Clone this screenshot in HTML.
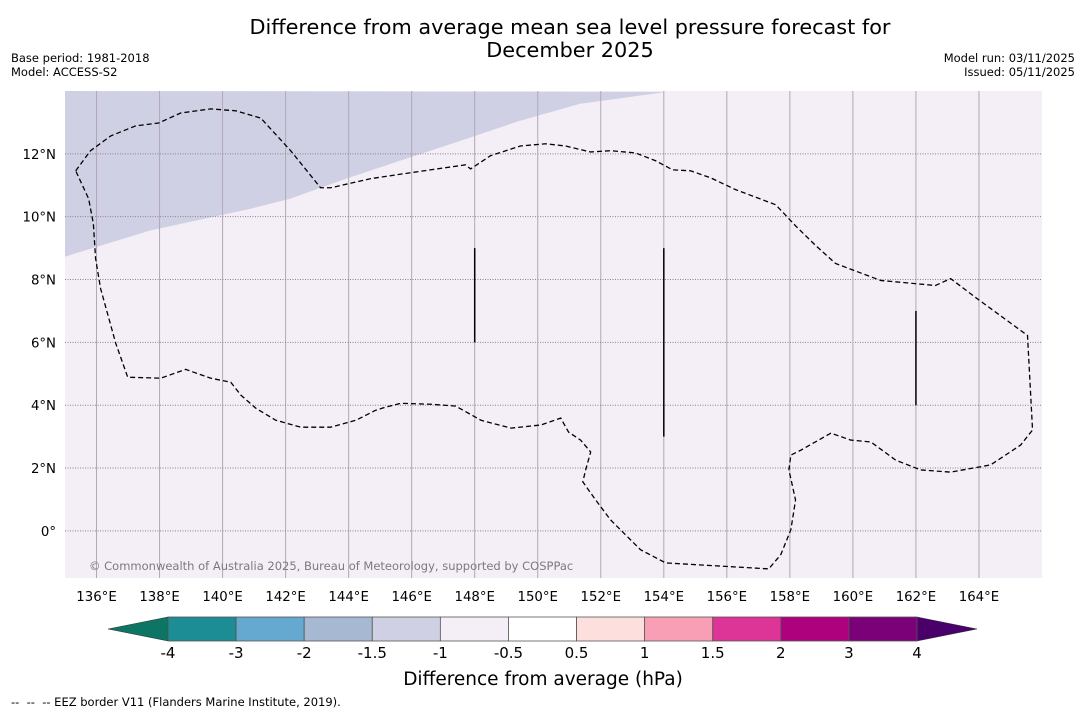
<!DOCTYPE html>
<html><head><meta charset="utf-8"><style>
body{margin:0;background:#fff;font-family:"Liberation Sans","DejaVu Sans",sans-serif}
svg{display:block}
</style></head><body>
<svg id="c" width="1085" height="713" font-family="DejaVu Sans, Liberation Sans, sans-serif">
<text x="570" y="34" text-anchor="middle" font-size="20.8">Difference from average mean sea level pressure forecast for</text>
<text x="570" y="57" text-anchor="middle" font-size="20.8">December 2025</text>
<text x="11" y="62" font-size="11.5">Base period: 1981-2018</text>
<text x="11" y="76" font-size="11.5">Model: ACCESS-S2</text>
<text x="1075" y="62" font-size="11.5" text-anchor="end">Model run: 03/11/2025</text>
<text x="1075" y="76" font-size="11.5" text-anchor="end">Issued: 05/11/2025</text>
<g id="map"></g>
<g id="cb"></g>
<text x="543" y="685" text-anchor="middle" font-size="18.5">Difference from average (hPa)</text>
<text x="11" y="706" font-size="11.5">-- &#160;-- &#160;-- EEZ border V11 (Flanders Marine Institute, 2019).</text>
</svg>
<script>
const lonTicks=[136,138,140,142,144,146,148,150,152,154,156,158,160,162,164];
const latTicks=[0,2,4,6,8,10,12];
const cbBounds=[-4,-3,-2,-1.5,-1,-0.5,0.5,1,1.5,2,3,4];
const cbLabels=["-4","-3","-2","-1.5","-1","-0.5","0.5","1","1.5","2","3","4"];
const cbColors=["#1c8d94","#66a9d0","#a7b8d3","#d0d0e4","#f4eef6","#ffffff","#fde0dd","#f99fb5","#dd3497","#ae017e","#7a0177"];
// EEZ outline lon/lat
const eezLon=[135.34,135.81,136.45,137.24,137.97,138.67,139.62,140.42,141.21,142.16,143.11,143.43,144.70,145.97,147.71,147.87,148.50,149.45,150.25,150.88,151.67,152.31,153.10,153.74,154.28,154.85,155.48,156.28,157.55,158.18,158.82,159.45,160.88,162.62,163.10,163.89,165.54,165.70,165.32,164.37,163.10,162.15,161.36,160.57,159.93,159.30,158.35,158.03,157.97,158.18,158.03,157.71,157.33,154.06,153.26,152.31,151.84,151.43,151.52,151.68,151.36,150.98,150.73,150.10,149.15,148.20,147.40,146.61,145.66,145.18,144.86,144.23,143.43,142.48,141.69,141.06,140.58,140.26,139.62,138.83,138.04,136.99,136.61,136.13,135.97,135.90,135.75,135.34];
const eezLat=[11.46,12.10,12.57,12.89,12.98,13.30,13.43,13.37,13.14,12.10,10.92,10.92,11.21,11.40,11.65,11.52,11.94,12.25,12.32,12.25,12.06,12.10,12.03,11.78,11.49,11.46,11.24,10.86,10.38,9.71,9.08,8.51,7.97,7.81,8.03,7.43,6.22,3.21,2.73,2.10,1.87,1.94,2.25,2.83,2.89,3.11,2.57,2.41,1.94,0.98,0.03,-0.76,-1.21,-1.02,-0.60,0.35,0.98,1.56,1.94,2.51,2.89,3.14,3.59,3.37,3.27,3.52,3.97,4.03,4.06,3.94,3.84,3.52,3.30,3.30,3.52,3.90,4.32,4.73,4.86,5.14,4.86,4.89,5.97,7.71,8.67,9.78,10.57,11.46];
// shaded (-1.5..-1) region boundary lon/lat
const shadeLon=[135.0,137.70,140.87,142.14,143.72,145.63,147.53,149.43,151.33,154.06];
const shadeLat=[8.73,9.56,10.25,10.57,11.14,11.78,12.41,13.05,13.59,13.97];
const segLon=[148,154,162], segLat0=[6,3,4], segLat1=[9,9,7];
const L=65,R=1042,T=91,B=578, lon0=135,lon1=166, lat0=-1.5,lat1=14;
const X=v=>L+(v-lon0)/(lon1-lon0)*(R-L);
const Y=v=>B-(v-lat0)/(lat1-lat0)*(B-T);
const NS="http://www.w3.org/2000/svg";
function mk(p,t,a){const e=document.createElementNS(NS,t);for(const k in a)e.setAttribute(k,a[k]);p.appendChild(e);return e;}
const m=document.getElementById('map');
let r=mk(m,'rect',{x:L,y:T,width:R-L,height:B-T,fill:'#f4eef6'});


let sp='M'+X(lon0)+','+Y(lat1)+' '+shadeLon.map((v,i)=>'L'+X(v)+','+Y(shadeLat[i])).join(' ')+' Z';
let sh=mk(m,'path',{d:sp,fill:'#d0d0e4'});


lonTicks.forEach(v=>{
 let g=mk(m,'line',{x1:X(v),x2:X(v),y1:T,y2:B,stroke:'#b0a8b8','stroke-width':1});
 
 
 let t=mk(m,'text',{x:X(v),y:B+23,'text-anchor':'middle','font-size':13.3});t.textContent=v+'°E';
 
 
});
latTicks.forEach(v=>{
 let g=mk(m,'line',{x1:L,x2:R,y1:Y(v),y2:Y(v),stroke:'#8a8090','stroke-width':1,'stroke-dasharray':'1,1.5'});
 
 
 let t=mk(m,'text',{x:L-9,y:Y(v)+5,'text-anchor':'end','font-size':13.3});t.textContent=v===0?'0°':v+'°N';
 
 
});
let ep=eezLon.map((v,i)=>(i?'L':'M')+X(v)+','+Y(eezLat[i])).join(' ');
let ez=mk(m,'path',{d:ep,fill:'none',stroke:'#000','stroke-width':1.3,'stroke-dasharray':'5,3'});


segLon.forEach((v,i)=>{
 let s=mk(m,'line',{x1:X(v),x2:X(v),y1:Y(segLat1[i]),y2:Y(segLat0[i]),stroke:'#000','stroke-width':1.5});
 
 
});
let ct=mk(m,'text',{x:89,y:570,'font-size':11.5,fill:'#7a7a80'});ct.textContent='© Commonwealth of Australia 2025, Bureau of Meteorology, supported by COSPPac';


// colorbar
const cb=document.getElementById('cb');
const CL=168,CR=917,CT=617,CB=641;
const CX=i=>CL+i*(CR-CL)/(cbBounds.length-1);
let lt=mk(cb,'polygon',{points:`108,629 ${CL},${CT} ${CL},${CB}`,fill:'#0d7563',stroke:'#333','stroke-width':0.5});


let rt=mk(cb,'polygon',{points:`977,629 ${CR},${CT} ${CR},${CB}`,fill:'#49006a',stroke:'#333','stroke-width':0.5});


cbColors.forEach((c,i)=>{
 let s=mk(cb,'rect',{x:CX(i),y:CT,width:CX(i+1)-CX(i),height:CB-CT,fill:c,stroke:'#555','stroke-width':0.8});
 
 
});
cbLabels.forEach((l,i)=>{
 let t=mk(cb,'text',{x:CX(i),y:658,'text-anchor':'middle','font-size':15});t.textContent=l;
 
 
});
</script>
</body></html>
